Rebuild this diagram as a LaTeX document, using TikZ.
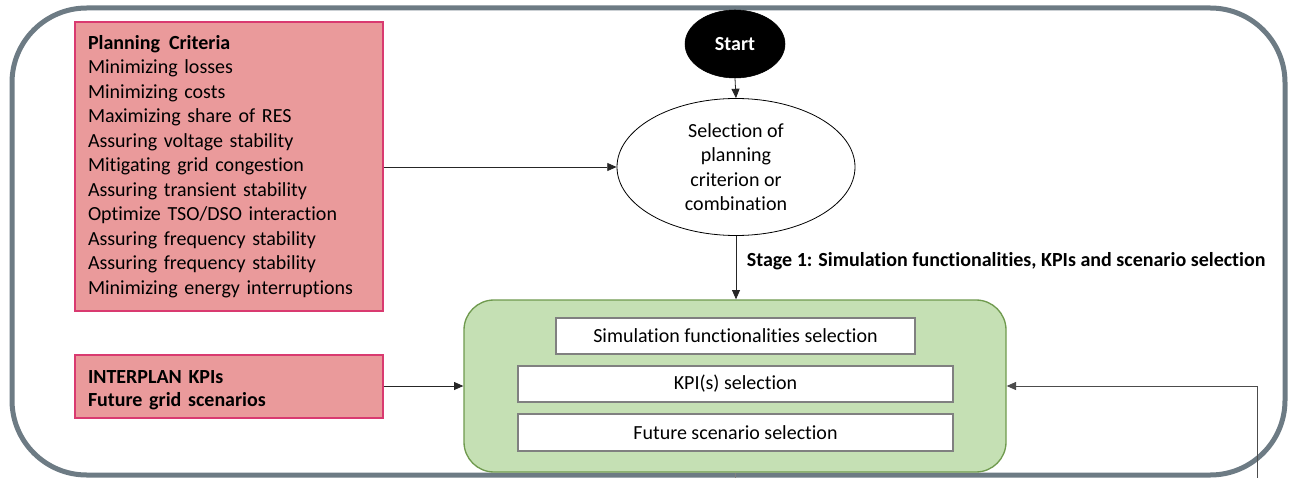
\documentclass[tikz,border=0pt]{standalone}
\usepackage{fontspec}
\setmainfont{Carlito}[RawFeature=-liga]
\usetikzlibrary{shapes.geometric,arrows.meta}
\definecolor{frame}{HTML}{6D7B84}
\definecolor{pinkfill}{HTML}{EA9A9B}
\definecolor{pinkline}{HTML}{D93A70}
\definecolor{greenfill}{HTML}{C5E0B4}
\definecolor{greenline}{HTML}{6F9A4E}
\definecolor{boxline}{HTML}{808080}
\tikzset{
  txt/.style={font=\fontsize{15}{18.4}\selectfont},
  pinkbox/.style={txt, draw=pinkline, fill=pinkfill, line width=1pt, align=left, inner xsep=9.75pt},
  innerbox/.style={txt, draw=boxline, fill=white, line width=0.8pt, minimum height=27pt, inner sep=0pt},
  conn/.style={draw=black!85, line width=0.6pt},
  arr/.style={conn, -{Triangle[length=7pt,width=6pt]}},
}
\begin{document}
\begin{tikzpicture}[x=0.75pt,y=-0.75pt]
\useasboundingbox (0,0) rectangle (1289,478);
% outer frame
\draw[frame, line width=3.75pt, rounded corners=56pt] (12,8) rectangle (1285,475);
% planning criteria box
\node[pinkbox, minimum width=231pt, minimum height=216.75pt, text width=211.5pt] (pc) at (229,166.5)
 {\textbf{Planning\hspace{0.45em}Criteria}\\
  Minimizing losses\\
  Minimizing costs\\
  Maximizing share of RES\\
  Assuring voltage stability\\
  Mitigating grid congestion\\
  Assuring transient stability\\
  Optimize TSO/DSO interaction\\
  Assuring frequency stability\\
  Assuring frequency stability\\
  Minimizing energy interruptions};
% KPI box
\node[pinkbox, minimum width=231pt, minimum height=47.25pt] (kpi) at (229,386.5) {};
\node[txt, font=\fontsize{15}{17.5}\selectfont\bfseries, align=left, text width=211.5pt, inner sep=0pt, yshift=-3pt] (kpitext) at (kpi) {INTERPLAN KPIs\\ Future grid scenarios};
% start
\node[ellipse, fill=black, draw=black, minimum width=75pt, minimum height=51pt, inner sep=0pt, txt, text=white, font=\fontsize{15}{18.4}\selectfont\bfseries] (start) at (735,44) {Start};
% selection ellipse
\node[ellipse, draw=black, line width=0.6pt, fill=white, minimum width=178.5pt, minimum height=102.75pt, inner sep=0pt, txt, align=center] (sel) at (736,167)
 {Selection of\\ planning\\ criterion or\\ combination};
% green box
\node[draw=greenline, fill=greenfill, line width=1pt, rounded corners=22.5pt, minimum width=406.5pt, minimum height=129pt] (green) at (735,386) {};
\node[innerbox, minimum width=269.25pt] (sim) at (735.5,336) {Simulation functionalities selection};
\node[innerbox, minimum width=326.25pt] (kpisel) at (735.5,384) {KPI(s) selection};
\node[innerbox, minimum width=326.25pt, minimum height=27.75pt] (fut) at (735.5,432.5) {Future scenario selection};
% connectors
\draw[arr] (start.south) -- (sel.north);
\draw[arr] (pc.east |- sel.west) -- (sel.west);
\draw[arr] (sel.south) -- (sel.south |- green.north)
  node[pos=0.4, anchor=west, txt, font=\fontsize{15}{18.4}\selectfont\bfseries, xshift=4.5pt] (stage) {Stage 1: Simulation functionalities, KPIs and scenario selection};
\draw[arr] (kpi.east |- green.west) -- (green.west);
\coordinate (rb) at (1257,478);
\draw[arr, draw=black!70] (rb) |- (green.east);
\coordinate (gb) at (735,478);
\draw[conn, draw=black!50] (green.south) -- (gb);
\end{tikzpicture}
\end{document}
